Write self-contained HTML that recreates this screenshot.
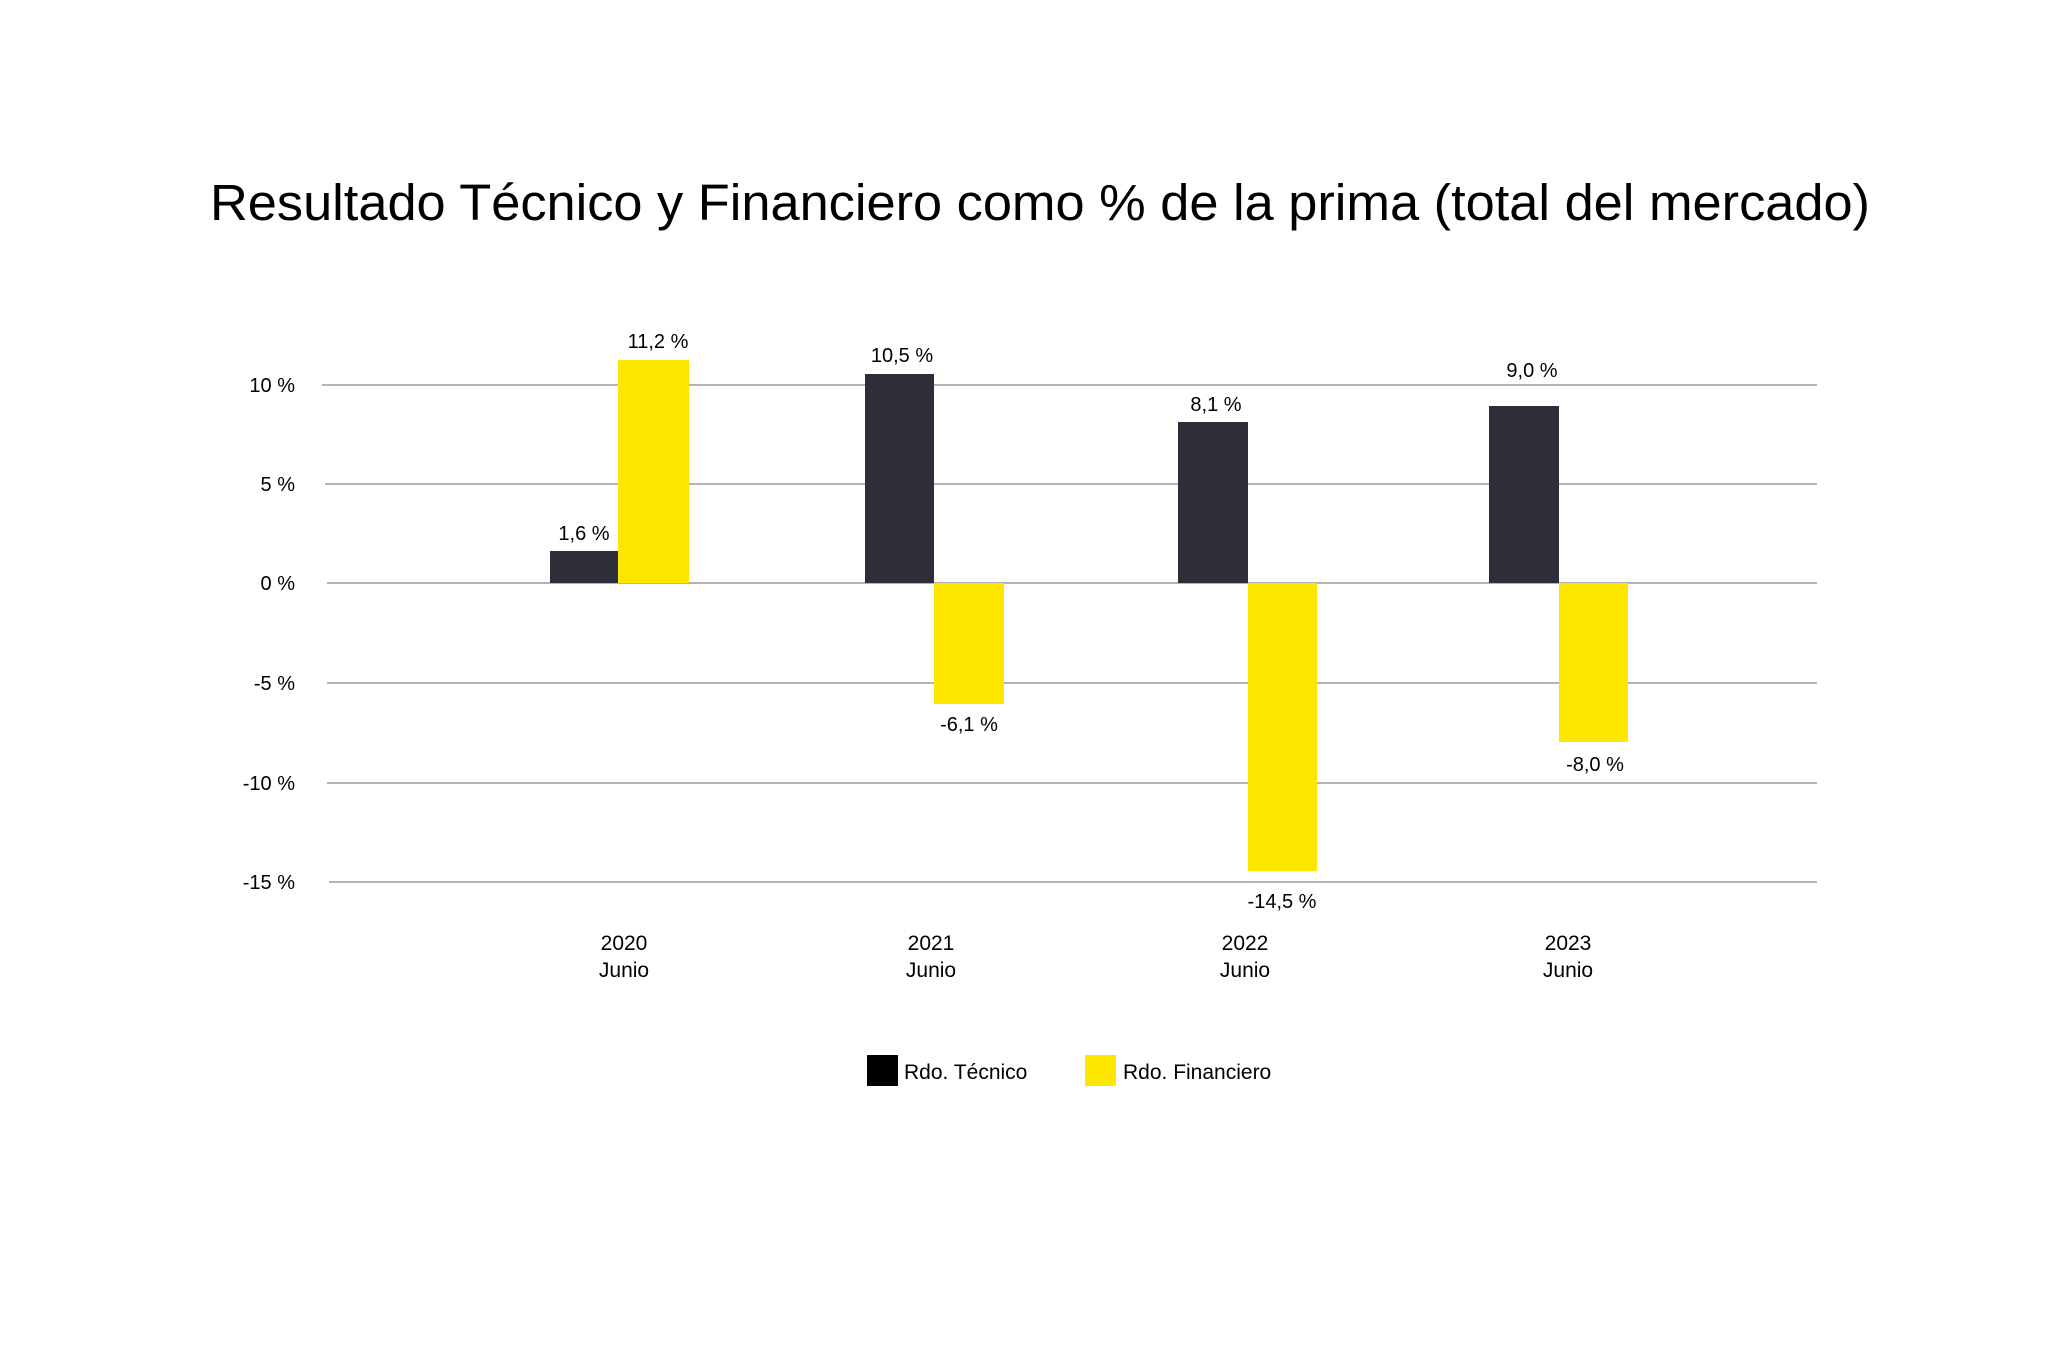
<!DOCTYPE html>
<html><head><meta charset="utf-8"><style>
body{margin:0;background:#fff;}
svg text{font-family:"Liberation Sans",sans-serif;fill:#000;}
</style></head><body>
<svg width="2048" height="1365" viewBox="0 0 2048 1365" xmlns="http://www.w3.org/2000/svg">
<rect width="2048" height="1365" fill="#fff"/>
<text x="210" y="220" font-size="51" textLength="1660" lengthAdjust="spacingAndGlyphs">Resultado Técnico y Financiero como  % de la prima (total del mercado)</text>
<g transform="translate(-3,-2)">
<g stroke="#9a9a9a" stroke-width="1.5">
<line x1="325" y1="387" x2="1820" y2="387"/>
<line x1="328" y1="486" x2="1820" y2="486"/>
<line x1="330" y1="585" x2="1820" y2="585"/>
<line x1="330" y1="685" x2="1820" y2="685"/>
<line x1="330" y1="785" x2="1820" y2="785"/>
<line x1="332" y1="884" x2="1820" y2="884"/>
</g>
<g font-size="20" text-anchor="end">
<text x="298" y="394">10 %</text>
<text x="298" y="493">5 %</text>
<text x="298" y="592">0 %</text>
<text x="298" y="692">-5 %</text>
<text x="298" y="792">-10 %</text>
<text x="298" y="891">-15 %</text>
</g>
<g fill="#2e2e38">
<rect x="553" y="553" width="68" height="32"/>
<rect x="868" y="376" width="69" height="209"/>
<rect x="1181" y="424" width="70" height="161"/>
<rect x="1492" y="408" width="70" height="177"/>
</g>
<g fill="#ffe600">
<rect x="621" y="362" width="71" height="223"/>
<rect x="937" y="585" width="70" height="121"/>
<rect x="1251" y="585" width="69" height="288"/>
<rect x="1562" y="585" width="69" height="159"/>
</g>
<g font-size="20" text-anchor="middle">
<text x="587" y="542">1,6 %</text>
<text x="661" y="350">11,2 %</text>
<text x="905" y="364">10,5 %</text>
<text x="972" y="733">-6,1 %</text>
<text x="1219" y="413">8,1 %</text>
<text x="1285" y="910">-14,5 %</text>
<text x="1535" y="379">9,0 %</text>
<text x="1598" y="773">-8,0 %</text>
</g>
<g font-size="21" text-anchor="middle">
<text x="627" y="952">2020</text><text x="627" y="979">Junio</text>
<text x="934" y="952">2021</text><text x="934" y="979">Junio</text>
<text x="1248" y="952">2022</text><text x="1248" y="979">Junio</text>
<text x="1571" y="952">2023</text><text x="1571" y="979">Junio</text>
</g>
<rect x="870" y="1057" width="31" height="31" fill="#000"/>
<text x="907" y="1081" font-size="21">Rdo. Técnico</text>
<rect x="1088" y="1057" width="31" height="31" fill="#ffe600"/>
<text x="1126" y="1081" font-size="21">Rdo. Financiero</text>
</g>
</svg>
</body></html>
